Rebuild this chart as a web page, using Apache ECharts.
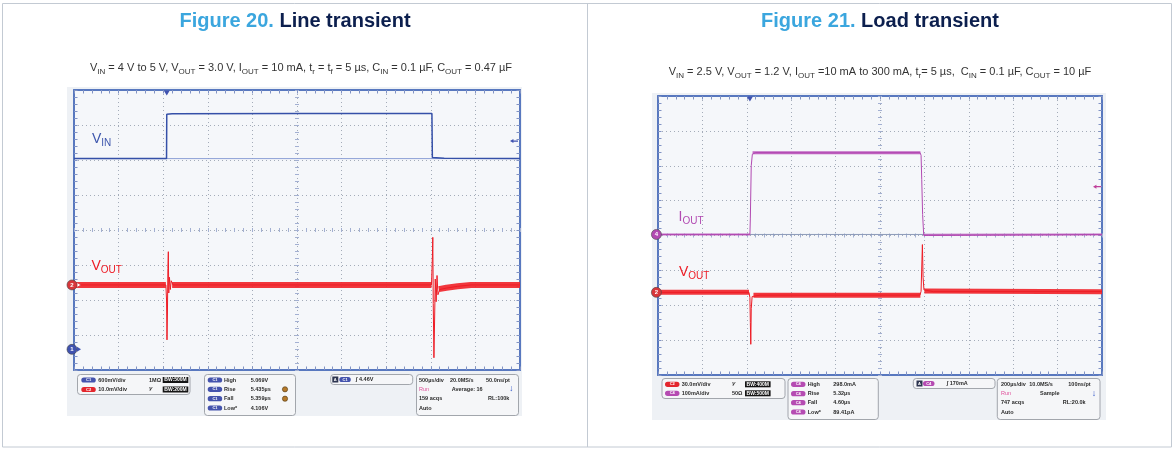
<!DOCTYPE html>
<html><head><meta charset="utf-8">
<script src="https://cdn.jsdelivr.net/npm/echarts@6/dist/echarts.min.js"></script>
<style>html,body{margin:0;padding:0;background:#fff}#c{width:1174px;height:452px}</style>
</head><body><div id="c"></div><script>
// ===== DATA (oscilloscope screen divisions: time 0..10 div, level 0..8 div) =====
// Figure 20 - Line transient
const fig20VinTime   = [0, 2.075, 2.08, 2.2, 5.0, 8.025, 8.035, 8.3, 10];
const fig20VinLevel  = [6.04, 6.04, 7.31, 7.32, 7.33, 7.33, 6.07, 6.05, 6.04];
const fig20VinRefTime  = [0, 10];
const fig20VinRefLevel = [6.04, 6.04];
const fig20VoutTime  = [0, 2.06, 2.075, 2.085, 2.095, 2.105, 2.115, 2.125, 2.14, 2.16, 2.18, 2.22,
                        8.015, 8.035, 8.045, 8.055, 8.07, 8.085, 8.10, 8.12, 8.14, 8.16, 8.2, 8.35, 8.6, 8.9, 10];
const fig20VoutLevel = [2.43, 2.43, 2.0, 0.86, 1.6, 2.9, 3.38, 2.2, 2.65, 2.3, 2.55, 2.43,
                        2.43, 3.2, 3.79, 1.9, 0.35, 1.4, 2.6, 1.95, 2.7, 2.15, 2.3, 2.34, 2.39, 2.43, 2.43];
const fig20VoutNoiseTime  = [0, 2.06, null, 2.2, 8.015, null, 8.18, 8.35, 8.6, 8.9, 10];
const fig20VoutNoiseLevel = [2.43, 2.43, null, 2.43, 2.43, null, 2.31, 2.35, 2.39, 2.43, 2.43];
// Figure 21 - Load transient
const fig21IoutTime  = [0, 2.07, 2.08, 2.1, 2.125, 2.2, 4.0, 5.9, 5.925, 5.94, 5.96, 5.985, 6.1, 10];
const fig21IoutLevel = [4.03, 4.03, 4.5, 6.0, 6.33, 6.38, 6.37, 6.38, 6.3, 5.6, 4.6, 4.0, 4.0, 4.03];
const fig21IoutRefTime  = [0, 10];
const fig21IoutRefLevel = [4.03, 4.03];
const fig21IoutHighNoiseTime  = [2.13, 5.91];
const fig21IoutHighNoiseLevel = [6.37, 6.37];
const fig21IoutLowNoiseTime   = [0, 2.07, null, 5.99, 10];
const fig21IoutLowNoiseLevel  = [4.03, 4.03, null, 4.02, 4.03];
const fig21VoutTime  = [0, 2.05, 2.07, 2.08, 2.09, 2.10, 2.12, 2.16, 2.3, 5.9, 5.925, 5.945, 5.955, 5.97, 5.99, 6.03, 6.2, 10];
const fig21VoutLevel = [2.37, 2.37, 2.22, 1.5, 0.88, 1.9, 2.25, 2.28, 2.29, 2.29, 2.4, 3.3, 3.74, 2.8, 2.44, 2.43, 2.39, 2.39];
const fig21VoutNoiseTime  = [0, 2.05, null, 2.15, 5.91, null, 6.0, 10];
const fig21VoutNoiseLevel = [2.37, 2.37, null, 2.29, 2.29, null, 2.41, 2.39];
// Marker levels (divisions)
const fig20Markers = {vout: 2.43, vinGround: 0.59, trigTime: 2.08, trigLevel: 6.54};
const fig21Markers = {iout: 4.03, vout: 2.37, trigTime: 2.07, trigLevel: 5.40};
// Scope readouts
const fig20Channels = [['C1', '600mV/div', '1MΩ', 'BW:500M'], ['C2', '10.0mV/div', '⅟', 'BW:200M']];
const fig20Measure  = [['High', '5.069V'], ['Rise', '5.435µs'], ['Fall', '5.359µs'], ['Low*', '4.106V']];
const fig20Trigger  = ['C1', '4.46V'];
const fig20Timebase = [['500µs/div', '20.0MS/s', '50.0ns/pt'], ['Run', 'Average: 16'], ['159 acqs', 'RL:100k'], ['Auto']];
const fig21Channels = [['C2', '30.0mV/div', '⅟', 'BW:400M'], ['C4', '100mA/div', '50Ω', 'BW:500M']];
const fig21Measure  = [['High', '298.0mA'], ['Rise', '5.32µs'], ['Fall', '4.60µs'], ['Low*', '89.41pA']];
const fig21Trigger  = ['C4', '170mA'];
const fig21Timebase = [['200µs/div', '10.0MS/s', '100ns/pt'], ['Run', 'Sample'], ['747 acqs', 'RL:20.0k'], ['Auto']];

// ===== STYLE / LAYOUT =====
const FONT = '"Liberation Sans", Arial, Helvetica, sans-serif';
const BLUE = '#3550a8', RED = '#ee1c25', PURPLE = '#b24ab2';
const PILL = {C1: '#4453ad', C2: '#e3262d', C4: '#b54bb2'};
const pts = (t, v) => t.map((x, i) => x === null ? ['-', '-'] : [x, v[i]]);

const G = [];
function T(x, y, text, o) {
  o = o || {};
  const st = {text: text, fill: o.color || '#2b2b2b', fontSize: o.size || 5.5, fontWeight: o.weight || 'bold',
    fontFamily: FONT, align: o.align || 'left', textAlign: o.align || 'left',
    verticalAlign: o.va || 'middle', textVerticalAlign: o.va || 'middle'};
  if (o.rich) st.rich = o.rich;
  G.push({type: 'text', x: x, y: y, z: o.z || 30, silent: true, style: st});
}
function R(x, y, w, h, o) {
  const st = {fill: o.fill || 'transparent'};
  if (o.stroke) { st.stroke = o.stroke; st.lineWidth = o.lw || 1; }
  G.push({type: 'rect', z: o.z != null ? o.z : 20, silent: true, shape: {x: x, y: y, width: w, height: h, r: o.r || 0}, style: st});
}
function C(cx, cy, r, o) {
  const st = {fill: o.fill};
  if (o.stroke) { st.stroke = o.stroke; st.lineWidth = o.lw || 1; }
  G.push({type: 'circle', z: o.z || 25, silent: true, shape: {cx: cx, cy: cy, r: r}, style: st});
}
function Ln(x1, y1, x2, y2, o) {
  G.push({type: 'line', z: o.z || 20, silent: true, shape: {x1: x1, y1: y1, x2: x2, y2: y2}, style: {stroke: o.stroke, lineWidth: o.lw || 1}});
}
function pill(x, y, label, w) {
  w = w || 14.5;
  R(x, y - 2.6, w, 5.2, {r: 2.6, fill: PILL[label] || '#4453ad', z: 22});
  T(x + w / 2, y, label, {size: 4, color: '#fff', align: 'center', z: 23});
}

// Panel frames
R(2.5, 3.5, 1169, 443.5, {stroke: '#c3cad3', lw: 1, z: -20});
Ln(587.5, 3.5, 587.5, 447, {stroke: '#c3cad3', lw: 1, z: -19});
// Scope screenshot backgrounds
R(67, 87, 455, 329, {fill: '#eef1f5', z: -10});
R(652, 93, 454, 327, {fill: '#eef1f5', z: -10});

// Titles
const titleRich = {
  a: {fontSize: 20, fontWeight: 'bold', fill: '#3ba6de', fontFamily: FONT},
  b: {fontSize: 20, fontWeight: 'bold', fill: '#0c1f4e', fontFamily: FONT}
};
T(295, 21, '{a|Figure 20.} {b|Line transient}', {align: 'center', rich: titleRich, size: 20});
T(880, 21, '{a|Figure 21.} {b|Load transient}', {align: 'center', rich: titleRich, size: 20});
const subRich = {
  m: {fontSize: 11, lineHeight: 15, fill: '#333', fontFamily: FONT},
  s: {fontSize: 8, lineHeight: 9, verticalAlign: 'bottom', fill: '#333', fontFamily: FONT}
};
T(301, 68, '{m|V}{s|IN}{m| = 4 V to 5 V, V}{s|OUT}{m| = 3.0 V, I}{s|OUT}{m| = 10 mA, t}{s|r}{m| = t}{s|f}{m| = 5 µs, C}{s|IN}{m| = 0.1 µF, C}{s|OUT}{m| = 0.47 µF}',
  {align: 'center', rich: subRich, weight: 'normal', size: 11});
T(880, 72, '{m|V}{s|IN}{m| = 2.5 V, V}{s|OUT}{m| = 1.2 V, I}{s|OUT}{m| =10 mA to 300 mA, t}{s|r}{m|= 5 µs,  C}{s|IN}{m| = 0.1 µF, C}{s|OUT}{m| = 10 µF}',
  {align: 'center', rich: subRich, weight: 'normal', size: 11});

// Trace labels
function traceLabel(x, y, main, sub, color) {
  T(x, y, '{m|' + main + '}{s|' + sub + '}', {weight: 'normal', size: 14, rich: {
    m: {fontSize: 14, lineHeight: 18, fill: color, fontFamily: FONT},
    s: {fontSize: 10, lineHeight: 12, verticalAlign: 'bottom', fill: color, fontFamily: FONT}}});
}
traceLabel(92, 139, 'V', 'IN', '#3d56ad');
traceLabel(91.5, 266.5, 'V', 'OUT', RED);
traceLabel(678.5, 217, 'I', 'OUT', PURPLE);
traceLabel(679, 272, 'V', 'OUT', RED);

// Readouts
function readout(L, ch, meas, trig, tb) {
  const bx = {r: 3, stroke: '#8d9299', fill: '#f5f6f8', lw: 0.8, z: 20};
  R(L.b1[0], L.b1[1], L.b1[2], L.b1[3], bx);
  ch.forEach((c, i) => {
    const y = L.r1[i];
    pill(L.c1[0], y, c[0]);
    T(L.c1[1], y, c[1]);
    T(L.c1[2], y, c[2]);
    R(L.c1[3], y - 3, 25.6, 6, {fill: '#151515', z: 22});
    T(L.c1[3] + 12.8, y, c[3], {color: '#fff', align: 'center', size: 5, z: 23});
  });
  R(L.b2[0], L.b2[1], L.b2[2], L.b2[3], bx);
  meas.forEach((m, i) => {
    const y = L.r2[i];
    pill(L.c2[0], y, trig[0]);
    T(L.c2[1], y, m[0]);
    T(L.c2[2], y, m[1]);
    if (L.icons && (i === 1 || i === 2)) C(L.c2[3], y, 2.6, {fill: '#b5792a', stroke: '#4d3510', lw: 0.6});
  });
  R(L.b3[0], L.b3[1], L.b3[2], L.b3[3], bx);
  R(L.c3[0], L.b3[1] + 2, 6, 6, {fill: '#2c3550', z: 22});
  T(L.c3[0] + 3, L.b3[1] + 5, 'A', {color: '#fff', size: 4, align: 'center', z: 23});
  pill(L.c3[1], L.b3[1] + 5, trig[0], 11.5);
  T(L.c3[2], L.b3[1] + 5, '∫ ' + trig[1]);
  R(L.b4[0], L.b4[1], L.b4[2], L.b4[3], bx);
  T(L.c4[0], L.r2[0], tb[0][0]); T(L.c4[1], L.r2[0], tb[0][1]); T(L.c4[2], L.r2[0], tb[0][2]);
  T(L.c4[0], L.r2[1], tb[1][0], {color: '#e0509a', weight: 'normal'}); T(L.c4[3], L.r2[1], tb[1][1]);
  T(L.c4[5], L.r2[1] - 0.5, '↓', {color: '#2f55c8', size: 9});
  T(L.c4[0], L.r2[2], tb[2][0]); T(L.c4[4], L.r2[2], tb[2][1]);
  T(L.c4[0], L.r2[3], tb[3][0]);
}
readout({b1: [77.5, 374.5, 112.5, 20], r1: [380, 389.5], c1: [81.3, 98.3, 149, 162.7],
  b2: [204.5, 374.5, 91, 41], r2: [380, 389.3, 398.7, 408], c2: [207.7, 224, 250.7, 285], icons: true,
  b3: [330.7, 374.5, 82, 10], c3: [332.3, 339.3, 356],
  b4: [416.5, 374.5, 102, 41], c4: [419, 450, 486, 451.7, 488, 509]},
  fig20Channels, fig20Measure, fig20Trigger, fig20Timebase);
readout({b1: [662, 378.5, 123, 20], r1: [384.3, 393.3], c1: [665, 681.7, 732, 745],
  b2: [788, 378.5, 90.3, 41], r2: [384.3, 393.7, 402.7, 412], c2: [791, 807.7, 833.3, 0], icons: false,
  b3: [913.3, 378.5, 81.7, 10], c3: [916.5, 923, 946.7],
  b4: [997.3, 378.5, 102.7, 41], c4: [1001, 1029.3, 1068.3, 1040, 1062.7, 1091.7]},
  fig21Channels, fig21Measure, fig21Trigger, fig21Timebase);

// ===== AXES (graticule) =====
const tickC = '#8193c4', borderC = '#5878bf', splitC = '#a4acb9', centerTickC = '#a3b0d2';
function axisBase(gi, min, max, position) {
  return {gridIndex: gi, type: 'value', min: min, max: max, interval: 1, position: position, silent: true,
    axisLabel: {show: false}, axisPointer: {show: false},
    axisLine: {show: true, onZero: false, lineStyle: {color: borderC, width: 2}},
    axisTick: {show: true, inside: true, length: 3.5, lineStyle: {color: tickC}},
    minorTick: {show: true, splitNumber: 5, length: 3.5, lineStyle: {color: tickC}},
    splitLine: {show: false}};
}
function centerAxis(gi, min, max, position, off) {
  const a = axisBase(gi, min, max, position);
  a.offset = off;
  a.axisLine = {show: false, onZero: false};
  a.axisTick = {show: true, inside: true, length: 4, lineStyle: {color: centerTickC}};
  a.minorTick = {show: true, splitNumber: 5, length: 4, lineStyle: {color: centerTickC}};
  return a;
}
const grids = [
  {left: 74, top: 90, width: 446, height: 280, show: true, backgroundColor: '#f5f7fa', borderWidth: 0},
  {left: 658, top: 96, width: 444, height: 279, show: true, backgroundColor: '#f5f7fa', borderWidth: 0}
];
const xAxes = [], yAxes = [];
grids.forEach((g, gi) => {
  const xb = axisBase(gi, 0, 10, 'bottom');
  xb.splitLine = {show: true, lineStyle: {color: splitC, type: [1, 3], width: 1}};
  xAxes.push(xb, axisBase(gi, 0, 10, 'top'), centerAxis(gi, 0, 10, 'bottom', -(g.height / 2 - 2)));
  const yl = axisBase(gi, 0, 8, 'left');
  yl.splitLine = {show: true, lineStyle: {color: splitC, type: [1, 3], width: 1}};
  yAxes.push(yl, axisBase(gi, 0, 8, 'right'), centerAxis(gi, 0, 8, 'left', -(g.width / 2 - 2)));
});

// ===== MARKERS =====
function chanMark(coord, label, color, dx) {
  return {coord: coord, symbol: 'circle', symbolSize: 10, symbolOffset: [dx, 0],
    itemStyle: {color: color, borderColor: '#444', borderWidth: 0.6},
    label: {show: true, formatter: label, color: '#fff', fontSize: 6, fontWeight: 'bold', position: 'inside'}};
}
function sideTri(coord, color, hollow, dx) {
  return {coord: coord, symbol: 'path://M0,0 L8,5 L0,10 Z', symbolSize: [4, 5], symbolOffset: [dx, 0],
    itemStyle: hollow ? {color: '#fff', borderColor: color, borderWidth: 0.8} : {color: color}, label: {show: false}};
}
function trigMark(coord, color, dy) {
  return {coord: coord, symbol: 'path://M0,0 L10,0 L5,8 Z', symbolSize: [6, 5], symbolOffset: [0, dy],
    itemStyle: {color: color}, label: {show: false}};
}
function levelArrow(coord, color, dx) {
  return {coord: coord, symbol: 'path://M0,5 L6,0 L6,3.5 L14,3.5 L14,6.5 L6,6.5 L6,10 Z', symbolSize: [8, 4],
    symbolOffset: [dx, 0], itemStyle: {color: color}, label: {show: false}};
}
function lineSeries(name, gi, data, color, width, marks, z, opacity) {
  const s = {name: name, type: 'line', xAxisIndex: gi * 3, yAxisIndex: gi * 3, data: data,
    showSymbol: false, symbol: 'none', animation: false, silent: true, z: z || 3,
    lineStyle: {color: color, width: width, cap: 'butt', join: 'bevel', opacity: opacity == null ? 1 : opacity}};
  if (marks) s.markPoint = {silent: true, animation: false, data: marks};
  return s;
}

const series = [
  // Figure 20
  lineSeries('VIN ref', 0, pts(fig20VinRefTime, fig20VinRefLevel), '#8d9fd6', 1, null, 2),
  lineSeries('VIN', 0, pts(fig20VinTime, fig20VinLevel), BLUE, 1.5, [
    chanMark([0, fig20Markers.vinGround], '1', '#3f52b0', -2),
    sideTri([0, fig20Markers.vinGround], '#3f52b0', false, 5),
    trigMark([fig20Markers.trigTime, 8], '#3f52b0', 3),
    levelArrow([10, fig20Markers.trigLevel], '#3f52b0', -6)]),
  lineSeries('VOUT noise', 0, pts(fig20VoutNoiseTime, fig20VoutNoiseLevel), '#f0262c', 6, null, 3, 0.92),
  lineSeries('VOUT', 0, pts(fig20VoutTime, fig20VoutLevel), RED, 1, [
    chanMark([0, fig20Markers.vout], '2', '#d8363a', -2),
    sideTri([0, fig20Markers.vout], '#d8363a', true, 5)], 4),
  // Figure 21
  lineSeries('IOUT ref', 1, pts(fig21IoutRefTime, fig21IoutRefLevel), '#8c9ab8', 1, null, 2),
  lineSeries('IOUT high noise', 1, pts(fig21IoutHighNoiseTime, fig21IoutHighNoiseLevel), '#bb55bb', 3, null, 3, 0.9),
  lineSeries('IOUT low noise', 1, pts(fig21IoutLowNoiseTime, fig21IoutLowNoiseLevel), '#c064c0', 2, null, 3, 0.9),
  lineSeries('IOUT', 1, pts(fig21IoutTime, fig21IoutLevel), PURPLE, 1, [
    chanMark([0, fig21Markers.iout], '4', '#b24ab2', -1.6),
    trigMark([fig21Markers.trigTime, 8], '#3f52b0', 3),
    levelArrow([10, fig21Markers.trigLevel], '#c0409a', -5)], 4),
  lineSeries('VOUT noise', 1, pts(fig21VoutNoiseTime, fig21VoutNoiseLevel), '#f0262c', 5, null, 3, 0.92),
  lineSeries('VOUT', 1, pts(fig21VoutTime, fig21VoutLevel), RED, 1, [
    chanMark([0, fig21Markers.vout], '2', '#d8363a', -1.6)], 4)
];

const chart = echarts.init(document.getElementById('c'), null, {renderer: 'canvas'});
chart.setOption({
  animation: false,
  backgroundColor: '#ffffff',
  grid: grids,
  xAxis: xAxes,
  yAxis: yAxes,
  series: series,
  graphic: {elements: G}
});
</script></body></html>
